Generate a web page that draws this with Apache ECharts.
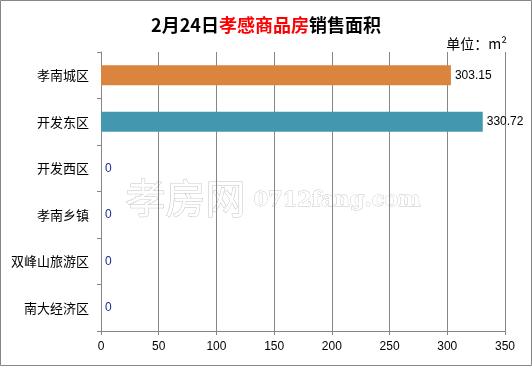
<!DOCTYPE html>
<html><head><meta charset="utf-8">
<script src="https://cdn.jsdelivr.net/npm/echarts@6/dist/echarts.min.js"></script>
<style>html,body{margin:0;padding:0;background:#fff}#c{width:532px;height:366px}</style>
</head><body><div id="c"></div>
<script>
const categories = ['孝南城区','开发东区','开发西区','孝南乡镇','双峰山旅游区','南大经济区'];
const values = [303.15, 330.72, 0, 0, 0, 0];
const barColors = ['#DB843D','#4398B0','#4572A7','#4572A7','#4572A7','#4572A7'];
const xTicks = [0, 350, 50];

const chart = echarts.init(document.getElementById('c'));
const font = '"Noto Sans CJK SC", "DejaVu Sans", sans-serif';
chart.setOption({
  animation: false,
  textStyle: { fontFamily: font },
  graphic: [
    { type: 'rect', shape: { x: 0.5, y: 0.5, width: 531, height: 365 }, style: { fill: 'none', stroke: '#868686', lineWidth: 1 }, z: 100 },
    { type: 'text', left: 125, top: 177, z: 0,
      style: { text: '孝房网', font: '40px "Noto Sans CJK SC"', fill: '#fff', stroke: '#c4c4c4', lineWidth: 1 } },
    { type: 'text', left: 253, top: 190, z: 0,
      style: { text: '0712fang.com', font: 'bold 21px "DejaVu Serif"', fill: '#fff', stroke: '#c4c4c4', lineWidth: 0.8 } }
  ],
  title: [{
    text: '{a|2月24日}{b|孝感商品房}{a|销售面积}',
    left: 'center', top: 11,
    textStyle: { rich: {
      a: { fontSize: 18, fontWeight: 'bold', color: '#000', fontFamily: font },
      b: { fontSize: 18, fontWeight: 'bold', color: '#FF0000', fontFamily: font }
    } }
  }, {
    text: '单位：m²', right: 20, top: 32,
    textStyle: { fontSize: 14, fontWeight: 'normal', color: '#000', fontFamily: font }
  }],
  grid: { left: 101, right: 27, top: 52, bottom: 35, containLabel: false },
  xAxis: {
    type: 'value', min: xTicks[0], max: xTicks[1], interval: xTicks[2],
    axisLine: { show: true, lineStyle: { color: '#868686' } },
    axisTick: { show: true, length: 4, lineStyle: { color: '#868686' } },
    axisLabel: { color: '#000', fontSize: 12, margin: 10, fontFamily: 'Liberation Sans, sans-serif' },
    splitLine: { show: true, lineStyle: { color: '#868686', width: 1 } }
  },
  yAxis: {
    type: 'category', data: categories, inverse: true,
    axisLine: { show: true, lineStyle: { color: '#868686' } },
    axisTick: { show: true, length: 4, lineStyle: { color: '#868686' } },
    axisLabel: { color: '#000', fontSize: 13, margin: 12 }
  },
  series: [{
    type: 'bar', barWidth: 20,
    data: values.map((v, i) => ({ value: v, itemStyle: { color: barColors[i] },
      label: { color: v === 0 ? '#1c2a8c' : '#000' } })),
    label: { show: true, position: 'right', distance: 4, fontSize: 12, fontFamily: 'Liberation Sans, sans-serif',
      formatter: p => p.value === 0 ? '0' : p.value.toFixed(2) }
  }]
});
</script></body></html>
